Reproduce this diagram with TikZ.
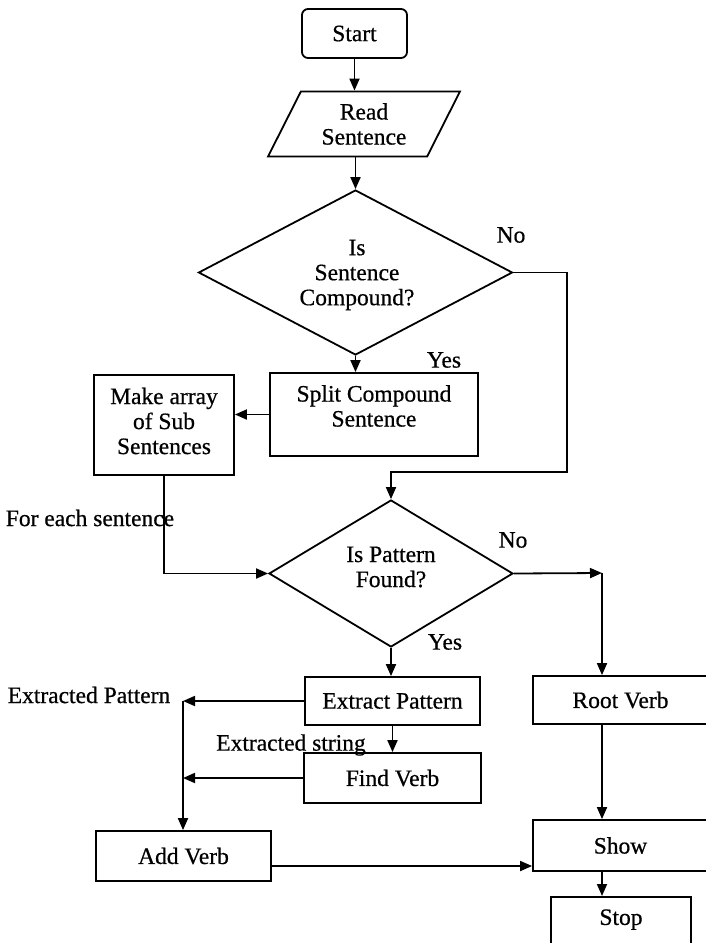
\documentclass[tikz,border=0pt]{standalone}
\usepackage{fontspec}
\setmainfont{Liberation Serif}
\newfontfamily\chartfont{Liberation Serif}[FakeBold=0.6]
\usetikzlibrary{arrows.meta,shapes.geometric}

\tikzset{
  txt/.style={font=\chartfont\fontsize{23.5}{25}\selectfont, inner sep=0pt},
  box/.style={txt, draw, line width=1.8pt, rectangle, align=center},
  decision/.style={txt, draw, line width=1.8pt, diamond, align=center},
  io/.style={txt, draw, line width=1.8pt, trapezium, trapezium left angle=62,
    trapezium right angle=118, trapezium stretches=true, align=center},
  term/.style={box, rounded corners=6pt},
  link/.style={line width=1.8pt},
  arr/.style={link, -{Triangle[length=12pt,width=10pt]}},
  lbl/.style={txt, align=center}
}

\begin{document}
\begin{tikzpicture}[x=1pt, y=-1pt]
  \useasboundingbox (0,0) rectangle (706,943);
  \fill[white] (0,0) rectangle (706,943);
  \clip (0,0) rectangle (706,943);

  % main column
  \node[term, minimum width=105pt, minimum height=49pt] (start) at (354.5,33.5) {Start};
  \node[io, minimum width=192pt, minimum height=65pt] (read) at (364,124) {Read\\Sentence};
  \node[decision, minimum width=314pt, minimum height=165pt, aspect=1.9] (dec1) at (355.5,272.5) {};
  \node[lbl] (dec1text) at (357,275) {Is\\Sentence\\Compound?};
  \node[box, minimum width=208pt, minimum height=83pt] (split) at (374,414.5) {};
  \node[lbl] (splittext) at (374,406) {Split Compound\\Sentence};
  \node[box, minimum width=140pt, minimum height=100pt] (make) at (164,425) {};
  \node[lbl] (maketext) at (164,421) {Make array\\of Sub\\Sentences};
  \node[decision, minimum width=244pt, minimum height=147pt, aspect=1.66] (dec2) at (391,573.5) {};
  \node[lbl] (dec2text) at (391,567) {Is Pattern\\Found?};
  \node[box, minimum width=175pt, minimum height=48pt] (extract) at (392.5,701) {Extract Pattern};
  \node[box, minimum width=177pt, minimum height=50pt] (find) at (392.5,778) {Find Verb};
  \node[box, minimum width=175pt, minimum height=50pt] (addverb) at (183.5,856) {Add Verb};

  % right column
  \node[box, minimum width=175pt, minimum height=48pt] (root) at (620.5,700) {Root Verb};
  \node[box, minimum width=175pt, minimum height=51pt] (show) at (620.5,845.5) {Show};
  \node[box, anchor=north, minimum width=140pt, text height=28pt, text depth=50pt] (stop) at (621,896) {Stop};

  % labels
  \node[lbl] (no1) at (511,235) {No};
  \node[lbl] (yes1) at (444,360) {Yes};
  \node[lbl] (no2) at (513,540) {No};
  \node[lbl] (yes2) at (445,642) {Yes};
  \node[lbl] (each) at (90,518) {For each sentence};
  \node[lbl] (expat) at (89,695) {Extracted Pattern};
  \node[lbl] (exstr) at (291,745) {Extracted string};

  % bend points
  \coordinate (nobend) at (567,472);
  \coordinate (rootturn) at (602,573);
  \coordinate (patjoin) at (183,704);

  % connectors
  \draw[arr] (start.south) -- (start.south |- read.north);
  \draw[arr] (read.south -| dec1.north) -- (dec1.north);
  \draw[arr] (dec1.south) -- (dec1.south |- split.north);
  \draw[arr] (split.west) -- (make.east |- split.west);
  \draw[arr] (dec1.east) -| (nobend) -| (dec2.north);
  \draw[arr] (make.south) |- (dec2.west);
  \draw[arr] (dec2.east) -- (rootturn);
  \draw[arr] (rootturn) -- (rootturn |- root.north);
  \draw[arr] (dec2.south) -- (dec2.south |- extract.north);
  \draw[arr] (extract.south) -- (extract.south |- find.north);
  \draw[arr] (extract.west) -- (patjoin |- extract.west);
  \draw[arr] (find.west) -- (patjoin |- find.west);
  \draw[arr] (patjoin |- extract.west) -- (patjoin |- addverb.north);
  \draw[arr] ([yshift=-10pt]addverb.east) -- ([yshift=-10pt]addverb.east -| show.west);
  \draw[arr] (rootturn |- root.south) -- (rootturn |- show.north);
  \draw[arr] (rootturn |- show.south) -- (rootturn |- stop.north);
\end{tikzpicture}
\end{document}
